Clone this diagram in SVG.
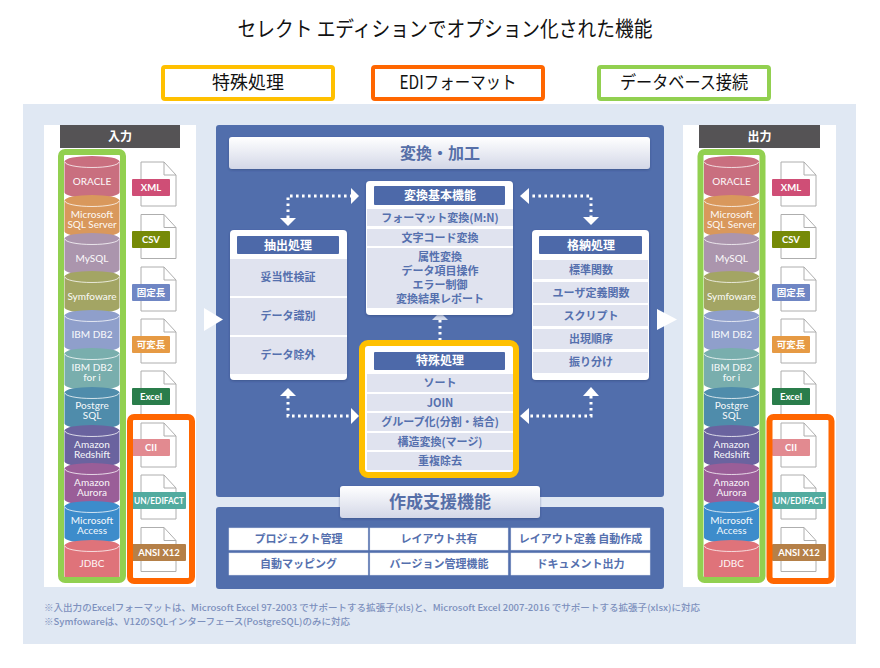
<svg xmlns="http://www.w3.org/2000/svg" width="880" height="668" viewBox="0 0 880 668">
<style>
text{font-family:"Noto Sans CJK JP","Noto Sans",sans-serif;text-anchor:middle}
.cy{font-family:Lato,"Noto Sans",sans-serif;font-size:10px;fill:#fff;font-weight:500;fill-opacity:.92}
.tg{font-family:Lato,"Noto Sans CJK JP",sans-serif;font-size:9.5px;fill:#fff;font-weight:700}
.c{font-size:11px;font-weight:700;fill:#5570ae}
.h{font-size:12px;font-weight:700;fill:#fff}
.hb{fill:#4d69a9}
.cell{fill:#e0e3ef}
.box{fill:#fff;filter:url(#sh)}
.pn{fill:#516eac}
.bar{fill:url(#g);filter:url(#sh)}
.bt{font-weight:700;fill:#566fa8}
.hd{fill:#555355}
.ht{font-size:12px;font-weight:700;fill:#fff}
.doc{fill:#fff;stroke:#aeaeae;stroke-width:1}
.dot{fill:none;stroke:#fff;stroke-width:3;stroke-dasharray:2.6 3.4}
.ar{fill:#fff}
.lg{font-size:18px;fill:#111}
.fn{font-size:9px;fill:#7d90bd;text-anchor:start;font-weight:500}
.btc{fill:#fff;stroke:#dfe3ee;stroke-width:.5}
</style>
<defs>
<linearGradient id="g" x1="0" y1="0" x2="0" y2="1"><stop offset="0" stop-color="#ffffff"/><stop offset="1" stop-color="#d3d7e7"/></linearGradient>
<filter id="sh" x="-5%" y="-5%" width="110%" height="115%"><feDropShadow dx="0" dy="1" stdDeviation="0.8" flood-color="#2a3d70" flood-opacity=".5"/></filter>
<g id="cyl"><path d="M0,5.500A27.500,5.500 0 0 1 55,5.500V36.500A27.500,5.500 0 0 1 0,36.500Z"/><path d="M0.500,6A27,5.500 0 0 0 54.500,6" fill="none" stroke="#fff" stroke-opacity=".75" stroke-width="1"/></g>
<g id="docf"><path class="doc" d="M0,0H23L35,13V44H0Z"/><path d="M23,0V13H35" fill="none" stroke="#aeaeae"/></g>
</defs>

<rect x="23" y="104" width="833" height="540" fill="#e0e8f3"/>
<text x="445" y="36" font-size="21" fill="#111" textLength="415" lengthAdjust="spacingAndGlyphs">セレクト エディションでオプション化された機能</text>

<g id="legend-special"><rect x="163" y="67" width="170" height="32" rx="2" fill="#fff" stroke="#ffc000" stroke-width="4"/><text class="lg" x="248" y="89">特殊処理</text></g>
<g id="legend-edi"><rect x="373" y="67" width="170" height="32" rx="2" fill="#fff" stroke="#ff6600" stroke-width="4"/><text class="lg" x="458" y="89" textLength="117" lengthAdjust="spacingAndGlyphs">EDIフォーマット</text></g>
<g id="legend-db"><rect x="599" y="67" width="170" height="32" rx="2" fill="#fff" stroke="#92d050" stroke-width="4"/><text class="lg" x="684" y="89" textLength="128" lengthAdjust="spacingAndGlyphs">データベース接続</text></g>

<rect x="44" y="125" width="152" height="462" fill="#fff"/>
<rect x="683" y="125" width="153" height="462" fill="#fff"/>

<g id="header-in"><rect class="hd" x="60" y="125" width="120" height="23"/><text class="ht" x="120" y="141">入力</text></g>
<g id="header-out"><rect class="hd" x="699" y="125" width="121" height="23"/><text class="ht" x="759.500" y="141">出力</text></g>

<g id="input-dbs">
<g id="in-oracle" transform="translate(64.500,156)"><use href="#cyl" fill="#c96f7f"/><text class="cy" x="27.500" y="29">ORACLE</text></g>
<g id="in-mssql" transform="translate(64.500,195)"><use href="#cyl" fill="#d9985c"/><text class="cy" x="27.500" y="23">Microsoft<tspan x="27.500" dy="10">SQL Server</tspan></text></g>
<g id="in-mysql" transform="translate(64.500,233)"><use href="#cyl" fill="#ab95ad"/><text class="cy" x="27.500" y="29">MySQL</text></g>
<g id="in-symfoware" transform="translate(64.500,271)"><use href="#cyl" fill="#a3a564"/><text class="cy" x="27.500" y="29">Symfoware</text></g>
<g id="in-db2" transform="translate(64.500,310)"><use href="#cyl" fill="#8f9fcb"/><text class="cy" x="27.500" y="28">IBM DB2</text></g>
<g id="in-db2i" transform="translate(64.500,348)"><use href="#cyl" fill="#79aead"/><text class="cy" x="27.500" y="23">IBM DB2<tspan x="27.500" dy="10">for i</tspan></text></g>
<g id="in-postgre" transform="translate(64.500,387)"><use href="#cyl" fill="#4f8cab"/><text class="cy" x="27.500" y="22">Postgre<tspan x="27.500" dy="10">SQL</tspan></text></g>
<g id="in-redshift" transform="translate(64.500,425)"><use href="#cyl" fill="#6a639f"/><text class="cy" x="27.500" y="23">Amazon<tspan x="27.500" dy="10">Redshift</tspan></text></g>
<g id="in-aurora" transform="translate(64.500,463)"><use href="#cyl" fill="#9a5e98"/><text class="cy" x="27.500" y="23">Amazon<tspan x="27.500" dy="10">Aurora</tspan></text></g>
<g id="in-access" transform="translate(64.500,501)"><use href="#cyl" fill="#3d8ccb"/><text class="cy" x="27.500" y="23">Microsoft<tspan x="27.500" dy="10">Access</tspan></text></g>
<g id="in-jdbc" transform="translate(64.500,540)"><use href="#cyl" fill="#df737a"/><text class="cy" x="27.500" y="27">JDBC</text></g>
</g>
<g id="input-files">
<g id="in-xml"><use href="#docf" x="141" y="162"/><rect x="132" y="179" width="38" height="17" rx="1" fill="#cf4e76"/><text class="tg" x="151" y="191">XML</text></g>
<g id="in-csv"><use href="#docf" x="141" y="214.500"/><rect x="132" y="231" width="38" height="17" rx="1" fill="#768a07"/><text class="tg" x="151" y="243">CSV</text></g>
<g id="in-fixed"><use href="#docf" x="141" y="267"/><rect x="132" y="284" width="38" height="17" rx="1" fill="#6f86c4"/><text class="tg" x="151" y="296">固定長</text></g>
<g id="in-variable"><use href="#docf" x="141" y="319"/><rect x="132" y="336" width="38" height="17" rx="1" fill="#e69a44"/><text class="tg" x="151" y="348">可変長</text></g>
<g id="in-excel"><use href="#docf" x="141" y="371"/><rect x="132" y="388" width="38" height="17" rx="1" fill="#2a7d4b"/><text class="tg" x="151" y="400">Excel</text></g>
<g id="in-cii"><use href="#docf" x="141" y="423"/><rect x="132" y="439" width="38" height="17" rx="1" fill="#e28a90"/><text class="tg" x="151" y="451">CII</text></g>
<g id="in-edifact"><use href="#docf" x="141" y="475"/><rect x="132" y="492" width="54" height="17" rx="1" fill="#52ab9f"/><text class="tg" x="159" y="504" textLength="50" lengthAdjust="spacingAndGlyphs">UN/EDIFACT</text></g>
<g id="in-ansi"><use href="#docf" x="141" y="527.500"/><rect x="132" y="544" width="54" height="17" rx="1" fill="#b58048"/><text class="tg" x="159" y="556">ANSI X12</text></g>
</g>
<rect id="frame-in-db" x="61" y="152" width="62" height="428" rx="4" fill="none" stroke="#92d050" stroke-width="6"/>
<rect id="frame-in-edi" x="130" y="417" width="62" height="164" rx="4" fill="none" stroke="#ff6600" stroke-width="6"/>

<g id="output-dbs">
<g id="out-oracle" transform="translate(704,156)"><use href="#cyl" fill="#c96f7f"/><text class="cy" x="27.500" y="29">ORACLE</text></g>
<g id="out-mssql" transform="translate(704,195)"><use href="#cyl" fill="#d9985c"/><text class="cy" x="27.500" y="23">Microsoft<tspan x="27.500" dy="10">SQL Server</tspan></text></g>
<g id="out-mysql" transform="translate(704,233)"><use href="#cyl" fill="#ab95ad"/><text class="cy" x="27.500" y="29">MySQL</text></g>
<g id="out-symfoware" transform="translate(704,271)"><use href="#cyl" fill="#a3a564"/><text class="cy" x="27.500" y="29">Symfoware</text></g>
<g id="out-db2" transform="translate(704,310)"><use href="#cyl" fill="#8f9fcb"/><text class="cy" x="27.500" y="28">IBM DB2</text></g>
<g id="out-db2i" transform="translate(704,348)"><use href="#cyl" fill="#79aead"/><text class="cy" x="27.500" y="23">IBM DB2<tspan x="27.500" dy="10">for i</tspan></text></g>
<g id="out-postgre" transform="translate(704,387)"><use href="#cyl" fill="#4f8cab"/><text class="cy" x="27.500" y="22">Postgre<tspan x="27.500" dy="10">SQL</tspan></text></g>
<g id="out-redshift" transform="translate(704,425)"><use href="#cyl" fill="#6a639f"/><text class="cy" x="27.500" y="23">Amazon<tspan x="27.500" dy="10">Redshift</tspan></text></g>
<g id="out-aurora" transform="translate(704,463)"><use href="#cyl" fill="#9a5e98"/><text class="cy" x="27.500" y="23">Amazon<tspan x="27.500" dy="10">Aurora</tspan></text></g>
<g id="out-access" transform="translate(704,501)"><use href="#cyl" fill="#3d8ccb"/><text class="cy" x="27.500" y="23">Microsoft<tspan x="27.500" dy="10">Access</tspan></text></g>
<g id="out-jdbc" transform="translate(704,540)"><use href="#cyl" fill="#df737a"/><text class="cy" x="27.500" y="27">JDBC</text></g>
</g>
<g id="output-files">
<g id="out-xml"><use href="#docf" x="781" y="162"/><rect x="772" y="179" width="38" height="17" rx="1" fill="#cf4e76"/><text class="tg" x="791" y="191">XML</text></g>
<g id="out-csv"><use href="#docf" x="781" y="214.500"/><rect x="772" y="231" width="38" height="17" rx="1" fill="#768a07"/><text class="tg" x="791" y="243">CSV</text></g>
<g id="out-fixed"><use href="#docf" x="781" y="267"/><rect x="772" y="284" width="38" height="17" rx="1" fill="#6f86c4"/><text class="tg" x="791" y="296">固定長</text></g>
<g id="out-variable"><use href="#docf" x="781" y="319"/><rect x="772" y="336" width="38" height="17" rx="1" fill="#e69a44"/><text class="tg" x="791" y="348">可変長</text></g>
<g id="out-excel"><use href="#docf" x="781" y="371"/><rect x="772" y="388" width="38" height="17" rx="1" fill="#2a7d4b"/><text class="tg" x="791" y="400">Excel</text></g>
<g id="out-cii"><use href="#docf" x="781" y="423"/><rect x="772" y="439" width="38" height="17" rx="1" fill="#e28a90"/><text class="tg" x="791" y="451">CII</text></g>
<g id="out-edifact"><use href="#docf" x="781" y="475"/><rect x="772" y="492" width="54" height="17" rx="1" fill="#52ab9f"/><text class="tg" x="799" y="504" textLength="50" lengthAdjust="spacingAndGlyphs">UN/EDIFACT</text></g>
<g id="out-ansi"><use href="#docf" x="781" y="527.500"/><rect x="772" y="544" width="54" height="17" rx="1" fill="#b58048"/><text class="tg" x="799" y="556">ANSI X12</text></g>
</g>
<rect id="frame-out-db" x="700.500" y="152" width="62" height="428" rx="4" fill="none" stroke="#92d050" stroke-width="6"/>
<rect id="frame-out-edi" x="769.500" y="417" width="62" height="164" rx="4" fill="none" stroke="#ff6600" stroke-width="6"/>

<rect id="panel-main" class="pn" x="216" y="125" width="448" height="372" rx="3"/>
<rect id="panel-support" class="pn" x="216" y="507" width="448" height="82" rx="3"/>

<g id="bar-convert"><rect class="bar" x="229" y="137" width="421" height="32" rx="3"/><text class="bt" x="440" y="159" font-size="16">変換・加工</text></g>

<g id="connectors">
<path class="dot" d="M288,218V196H351"/><polygon class="ar" points="351,188 359,196 351,204"/><polygon class="ar" points="280,218 296,218 288,226"/>
<path class="dot" d="M591,218V196H529"/><polygon class="ar" points="529,188 520,196 529,204"/><polygon class="ar" points="583,217 599,217 591,225"/>
<path class="dot" d="M288,396V416H351"/><polygon class="ar" points="351,408 359,416 351,424"/><polygon class="ar" points="280,396 296,396 288,388"/>
<path class="dot" d="M591,396V416H529"/><polygon class="ar" points="529,408 520,416 529,424"/><polygon class="ar" points="583,396 599,396 591,387"/>
<path class="dot" d="M440,320V341"/><polygon class="ar" points="432,320 448,320 440,312" fill-opacity=".75"/>
<polygon id="arrow-in" class="ar" points="204,308 223,319.500 204,331"/>
<polygon id="arrow-out" class="ar" points="657,309 677,319.500 657,330"/>
</g>

<g id="node-extract">
<rect class="box" x="230" y="230" width="117" height="150" rx="4"/>
<rect class="hb" x="237" y="236" width="102" height="18" rx="1"/><text class="h" x="288" y="250">抽出処理</text>
<rect class="cell" x="230" y="259" width="117" height="37"/><text class="c" x="288" y="281">妥当性検証</text>
<rect class="cell" x="230" y="298" width="117" height="37"/><text class="c" x="288" y="320">データ識別</text>
<rect class="cell" x="230" y="337" width="117" height="37"/><text class="c" x="288" y="359">データ除外</text>
</g>
<g id="node-basic">
<rect class="box" x="366" y="181" width="147" height="134" rx="4"/>
<rect class="hb" x="374" y="186" width="131" height="19" rx="1"/><text class="h" x="440" y="200">変換基本機能</text>
<rect class="cell" x="367" y="209" width="146" height="17"/><text class="c" x="440" y="221.500">フォーマット変換(M:N)</text>
<rect class="cell" x="367" y="229" width="146" height="17"/><text class="c" x="440" y="241.500">文字コード変換</text>
<rect class="cell" x="367" y="248" width="146" height="60"/>
<text class="c" x="440" y="261">属性変換<tspan x="440" dy="14">データ項目操作</tspan><tspan x="440" dy="14">エラー制御</tspan><tspan x="440" dy="14">変換結果レポート</tspan></text>
</g>
<g id="node-special">
<rect x="362" y="343" width="154" height="132" rx="6" fill="#fff"/>
<rect class="hb" x="374" y="352" width="131" height="18" rx="1"/><text class="h" x="440" y="365">特殊処理</text>
<rect class="cell" x="367" y="374" width="146" height="18"/><text class="c" x="440" y="387">ソート</text>
<rect class="cell" x="367" y="394" width="146" height="17"/><text class="c" x="440" y="407">JOIN</text>
<rect class="cell" x="367" y="413" width="146" height="18"/><text class="c" x="440" y="426">グループ化(分割・結合)</text>
<rect class="cell" x="367" y="433" width="146" height="17"/><text class="c" x="440" y="446">構造変換(マージ)</text>
<rect class="cell" x="367" y="452" width="146" height="18"/><text class="c" x="440" y="465">重複除去</text>
<rect x="362" y="343" width="154" height="132" rx="6" fill="none" stroke="#ffc000" stroke-width="6"/>
</g>
<g id="node-store">
<rect class="box" x="532" y="230" width="117" height="150" rx="4"/>
<rect class="hb" x="539" y="236" width="103" height="18" rx="1"/><text class="h" x="591" y="250">格納処理</text>
<rect class="cell" x="533" y="260" width="115" height="19"/><text class="c" x="591" y="273.500">標準関数</text>
<rect class="cell" x="533" y="282" width="115" height="21"/><text class="c" x="591" y="296.500">ユーザ定義関数</text>
<rect class="cell" x="533" y="305" width="115" height="21"/><text class="c" x="591" y="320">スクリプト</text>
<rect class="cell" x="533" y="329" width="115" height="20"/><text class="c" x="591" y="343">出現順序</text>
<rect class="cell" x="533" y="352" width="115" height="21"/><text class="c" x="591" y="366">振り分け</text>
</g>

<g id="bar-support"><rect class="bar" x="340" y="486" width="200" height="32" rx="3"/><text class="bt" x="440" y="508" font-size="17">作成支援機能</text></g>
<g id="support-items">
<g id="s-project"><rect class="btc" x="229" y="528" width="139" height="22"/><text class="c" x="298.500" y="543">プロジェクト管理</text></g>
<g id="s-share"><rect class="btc" x="370" y="528" width="138" height="22"/><text class="c" x="439" y="543">レイアウト共有</text></g>
<g id="s-auto"><rect class="btc" x="511" y="528" width="139" height="22"/><text class="c" x="580.500" y="543">レイアウト定義 自動作成</text></g>
<g id="s-mapping"><rect class="btc" x="229" y="553" width="139" height="22"/><text class="c" x="298.500" y="568">自動マッピング</text></g>
<g id="s-version"><rect class="btc" x="370" y="553" width="138" height="22"/><text class="c" x="439" y="568">バージョン管理機能</text></g>
<g id="s-doc"><rect class="btc" x="511" y="553" width="139" height="22"/><text class="c" x="580.500" y="568">ドキュメント出力</text></g>
</g>

<text class="fn" x="44" y="611" textLength="656" lengthAdjust="spacingAndGlyphs">※入出力のExcelフォーマットは、Microsoft Excel 97-2003 でサポートする拡張子(xls)と、Microsoft Excel 2007-2016 でサポートする拡張子(xlsx)に対応</text>
<text class="fn" x="44" y="625" textLength="306" lengthAdjust="spacingAndGlyphs">※Symfowareは、V12のSQLインターフェース(PostgreSQL)のみに対応</text>
</svg>
